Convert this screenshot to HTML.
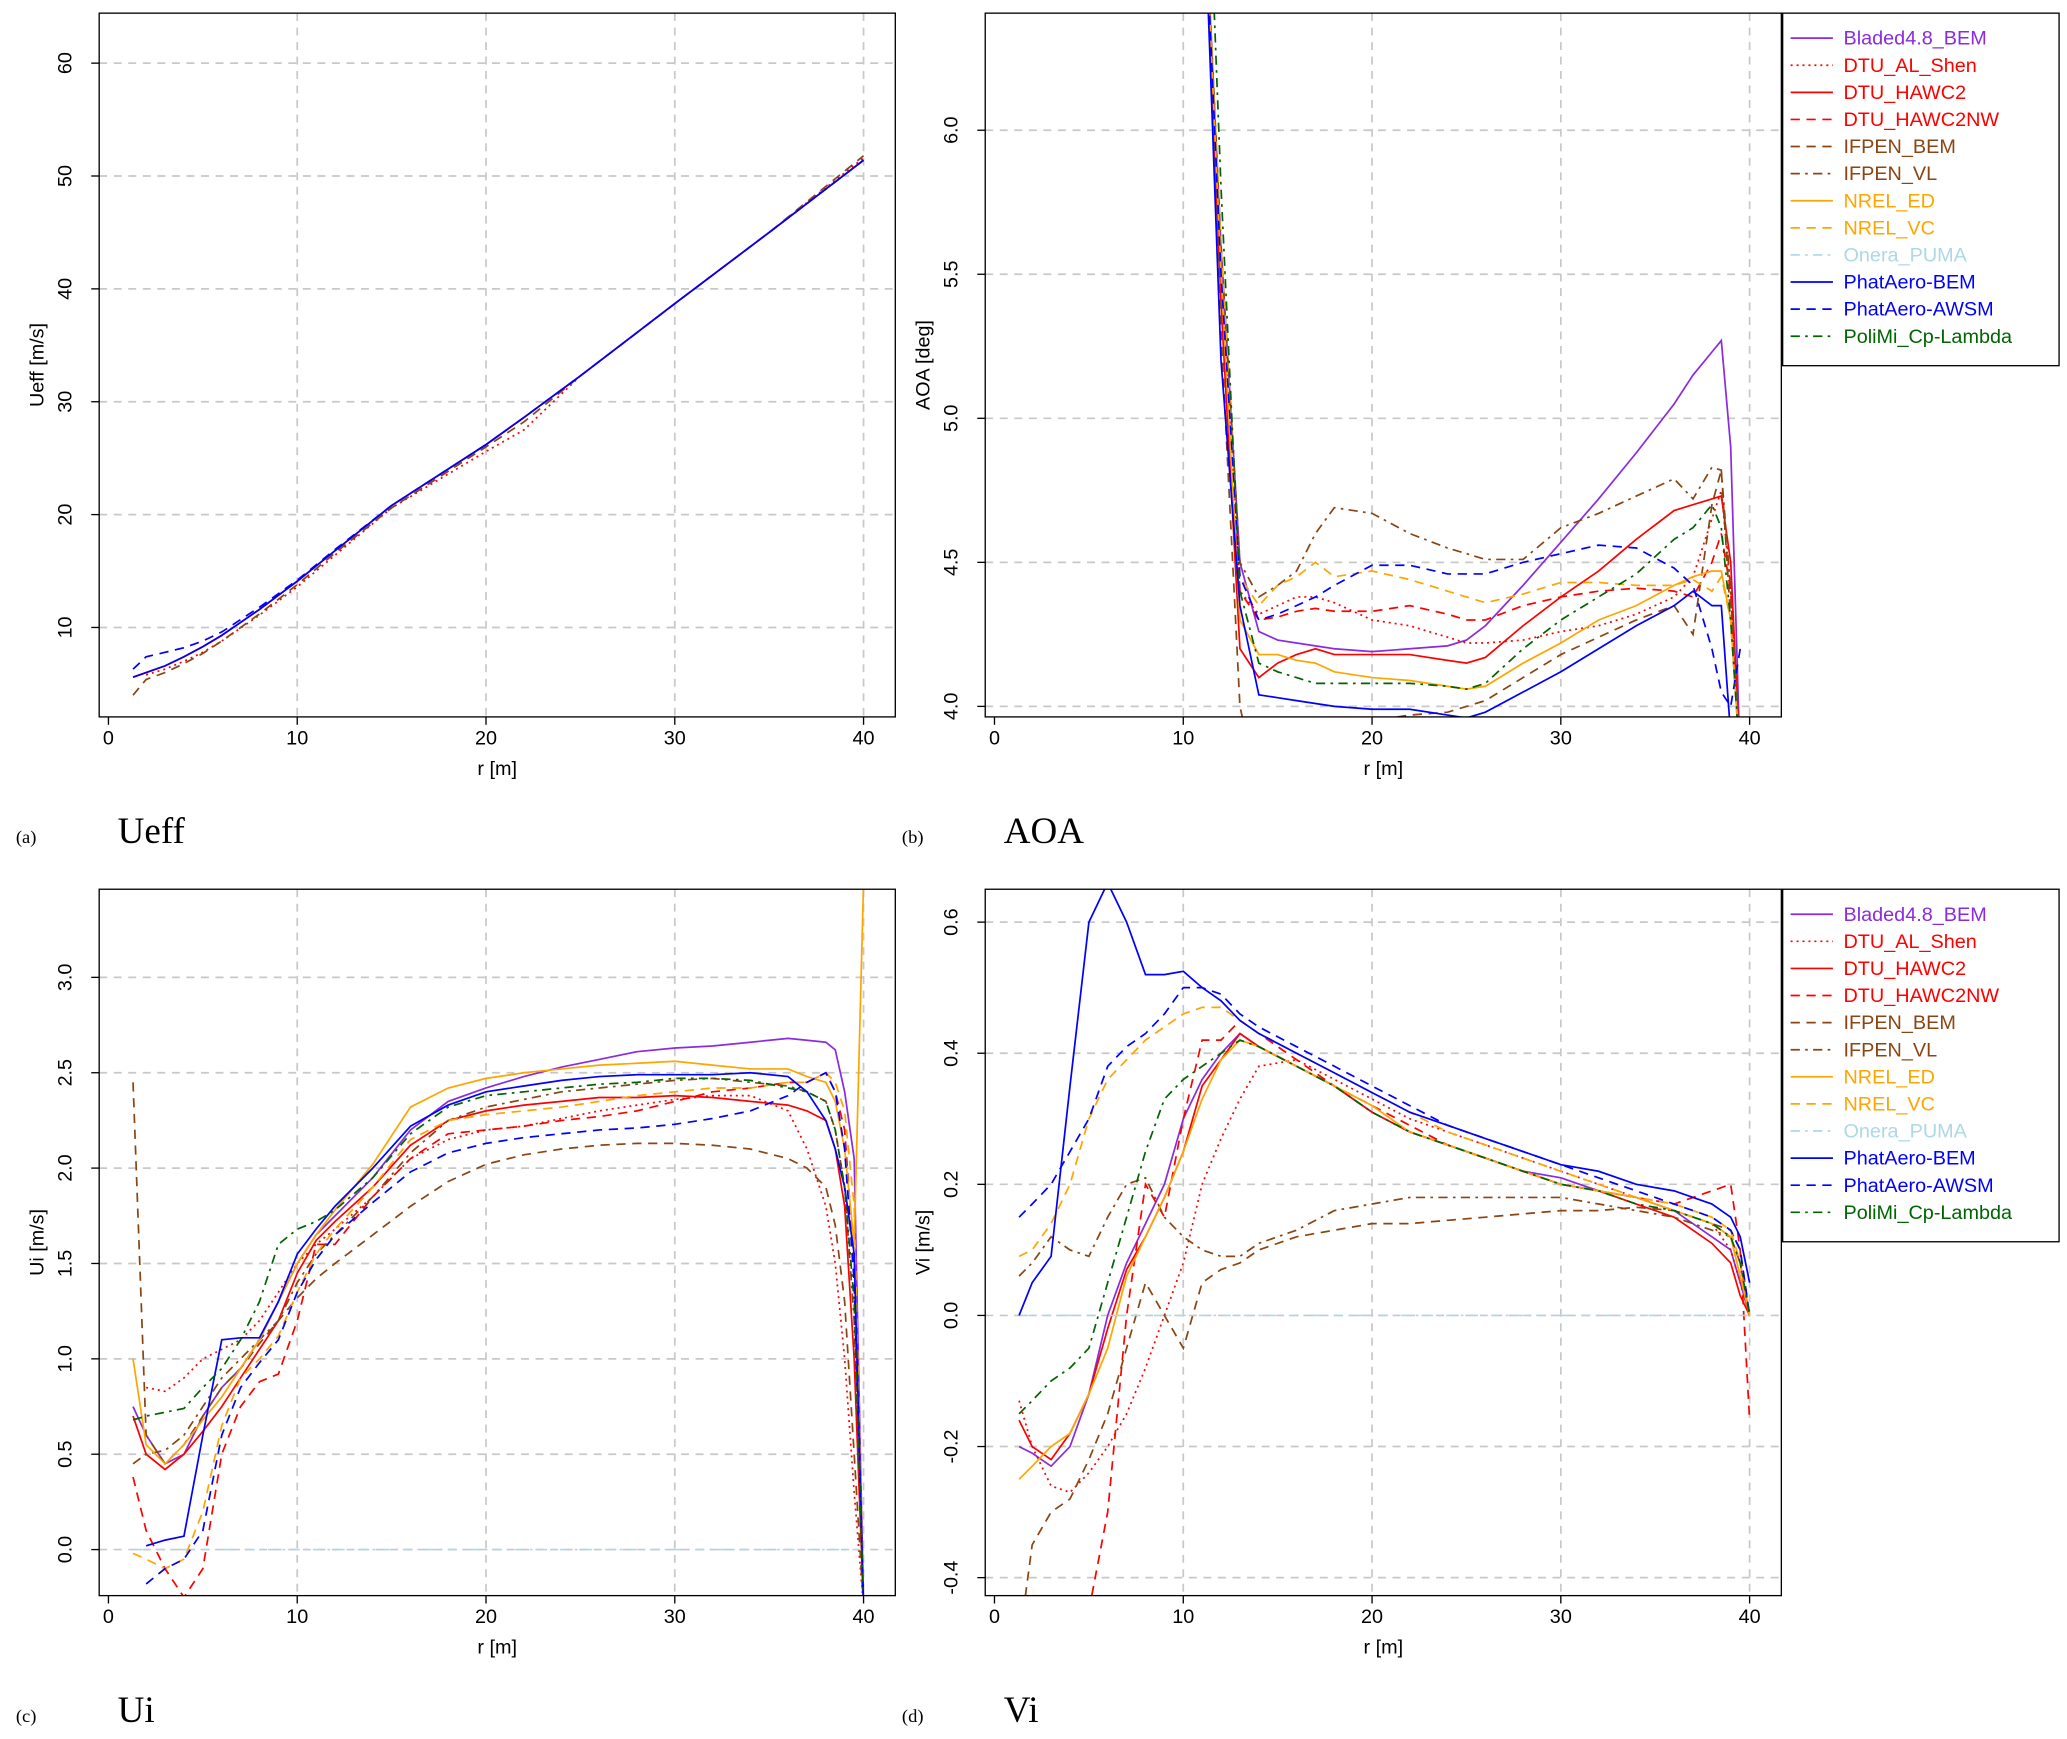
<!DOCTYPE html>
<html><head><meta charset="utf-8">
<style>
html,body{margin:0;padding:0;background:#fff;}
svg{display:block;font-family:"Liberation Sans",sans-serif;}
</style></head>
<body>
<svg id="fig" width="2067" height="1739" viewBox="0 0 1563 1322" preserveAspectRatio="none" xmlns="http://www.w3.org/2000/svg"></svg>
<script>
// ---- data ----
const seriesNames = ["Bladed4.8_BEM","DTU_AL_Shen","DTU_HAWC2","DTU_HAWC2NW","IFPEN_BEM","IFPEN_VL","NREL_ED","NREL_VC","Onera_PUMA","PhatAero-BEM","PhatAero-AWSM","PoliMi_Cp-Lambda"];
const xTicks = [0,10,20,30,40];
const ticksA = [10,20,30,40,50,60];
const ticksB = [4.0,4.5,5.0,5.5,6.0];
const ticksC = [0.0,0.5,1.0,1.5,2.0,2.5,3.0];
const ticksD = [-0.4,-0.2,0.0,0.2,0.4,0.6];

// Panel a: Ueff
const rA = [1.3,2,3,4,5,6,8,10,12,15,20,22,25,30,35,40];
const ueff_main = [5.6,6.0,6.6,7.4,8.3,9.3,11.6,14.1,16.8,20.8,26.2,28.6,32.3,38.7,45.0,51.4];
const ueff_awsm = [6.3,7.4,7.8,8.2,8.8,9.6,11.8,14.2,16.9,20.8,26.2,28.6,32.3,38.7,45.0,51.4];
const ueff_ifpen = [4.0,5.4,6.0,6.8,7.7,8.8,11.2,13.8,16.6,20.6,26.0,28.2,32.3,38.7,45.0,51.8];
const ueff_shen = [null,5.8,6.3,7.0,7.8,8.8,11.1,13.6,16.4,20.6,25.6,27.5,32.3,38.7,45.0,51.6];

// Panel b: AOA
const rB = [11,12,13,14,15,16,17,18,20,22,24,25,26,28,30,32,34,36,37,38,38.5,39,39.5];
const aoa = [
 [7,5.6,4.5,4.26,4.23,4.22,4.21,4.2,4.19,4.2,4.21,4.23,4.28,4.42,4.57,4.72,4.88,5.05,5.15,5.23,5.27,4.9,3.8],
 [7,5.5,4.4,4.32,4.35,4.38,4.38,4.36,4.3,4.28,4.24,4.22,4.22,4.23,4.26,4.28,4.32,4.38,4.45,4.65,4.75,4.4,3.8],
 [7,5.4,4.2,4.1,4.15,4.18,4.2,4.18,4.18,4.18,4.16,4.15,4.17,4.28,4.38,4.47,4.58,4.68,4.7,4.72,4.73,4.5,3.8],
 [7,5.5,4.4,4.3,4.31,4.33,4.34,4.33,4.33,4.35,4.32,4.3,4.3,4.35,4.38,4.4,4.41,4.4,4.38,4.5,4.6,4.4,3.8],
 [7,5.3,4.0,3.7,3.7,3.7,3.75,3.8,3.95,3.97,3.98,4.0,4.02,4.1,4.18,4.24,4.3,4.35,4.25,4.7,4.82,4.3,3.8],
 [7,5.6,4.5,4.38,4.42,4.47,4.6,4.69,4.67,4.6,4.55,4.53,4.51,4.51,4.62,4.67,4.73,4.79,4.72,4.83,4.82,4.4,3.8],
 [7,5.5,4.3,4.18,4.18,4.16,4.15,4.12,4.1,4.09,4.07,4.06,4.07,4.15,4.22,4.3,4.35,4.42,4.45,4.47,4.47,4.3,3.8],
 [7,5.6,4.45,4.35,4.42,4.45,4.5,4.45,4.47,4.44,4.4,4.38,4.36,4.39,4.43,4.43,4.42,4.42,4.44,4.4,4.45,4.3,3.8],
 [],
 [7,5.2,4.35,4.04,4.03,4.02,4.01,4.0,3.99,3.99,3.97,3.96,3.98,4.05,4.12,4.2,4.28,4.35,4.4,4.35,4.35,3.9,3.8],
 [7,5.5,4.45,4.3,4.32,4.35,4.38,4.42,4.49,4.49,4.46,4.46,4.46,4.5,4.53,4.56,4.55,4.48,4.42,4.2,4.05,4.0,4.2],
 [7.5,5.8,4.4,4.15,4.12,4.1,4.08,4.08,4.08,4.08,4.07,4.06,4.08,4.2,4.3,4.38,4.46,4.58,4.62,4.7,4.62,4.3,3.8]
];

// Panel c: Ui
const rC = [1.3,2,3,4,5,6,7,8,9,10,11,12,14,16,18,20,22,24,26,28,30,32,34,36,37,38,38.5,39,39.5,40];
const ui = [
 [0.75,0.6,0.45,0.5,0.7,0.85,0.95,1.1,1.3,1.5,1.65,1.75,1.95,2.2,2.35,2.42,2.48,2.53,2.57,2.61,2.63,2.64,2.66,2.68,2.67,2.66,2.62,2.4,2.05,-0.3],
 [null,0.85,0.83,0.9,1.0,1.05,1.1,1.2,1.35,1.5,1.6,1.68,1.85,2.05,2.15,2.2,2.22,2.26,2.3,2.33,2.36,2.38,2.38,2.3,2.1,1.8,1.5,1.0,0.3,-0.3],
 [0.7,0.5,0.42,0.5,0.62,0.75,0.9,1.05,1.2,1.45,1.62,1.72,1.9,2.12,2.25,2.3,2.33,2.35,2.37,2.37,2.38,2.37,2.35,2.33,2.3,2.25,2.1,1.8,1.0,-0.3],
 [0.38,0.1,-0.1,-0.25,-0.1,0.5,0.75,0.88,0.92,1.2,1.6,1.6,1.85,2.05,2.18,2.2,2.22,2.25,2.27,2.3,2.35,2.4,2.42,2.45,2.45,2.5,2.4,2.2,1.5,-0.3],
 [2.45,0.6,0.45,0.55,0.7,0.85,0.95,1.08,1.2,1.32,1.42,1.5,1.65,1.8,1.93,2.02,2.07,2.1,2.12,2.13,2.13,2.12,2.1,2.05,2.0,1.9,1.7,1.3,0.5,-0.3],
 [0.45,0.5,0.52,0.6,0.75,0.9,1.0,1.1,1.2,1.4,1.55,1.65,1.85,2.08,2.25,2.32,2.36,2.4,2.42,2.44,2.46,2.47,2.45,2.43,2.4,2.35,2.2,1.9,1.2,-0.3],
 [1.0,0.55,0.45,0.55,0.68,0.8,0.95,1.1,1.3,1.5,1.65,1.78,2.02,2.32,2.42,2.47,2.5,2.52,2.54,2.55,2.56,2.54,2.52,2.52,2.48,2.45,2.35,2.1,1.6,3.5],
 [-0.02,-0.05,-0.1,-0.05,0.2,0.65,0.9,1.0,1.12,1.35,1.55,1.68,1.9,2.15,2.25,2.28,2.3,2.32,2.35,2.38,2.4,2.42,2.42,2.45,2.45,2.5,2.45,2.3,1.8,-0.3],
 [0,0,0,0,0,0,0,0,0,0,0,0,0,0,0,0,0,0,0,0,0,0,0,0,0,0,0,0,0,0],
 [null,0.02,0.05,0.07,0.6,1.1,1.11,1.11,1.3,1.55,1.68,1.8,2.0,2.22,2.33,2.4,2.43,2.46,2.48,2.49,2.49,2.49,2.5,2.48,2.4,2.25,2.1,1.9,1.55,-0.3],
 [null,-0.18,-0.1,-0.05,0.1,0.6,0.85,0.98,1.1,1.35,1.52,1.65,1.82,1.98,2.08,2.13,2.16,2.18,2.2,2.21,2.23,2.26,2.3,2.38,2.45,2.5,2.4,2.1,1.4,-0.3],
 [0.68,0.7,0.72,0.74,0.85,0.95,1.1,1.3,1.6,1.68,1.72,1.78,1.95,2.18,2.32,2.38,2.4,2.42,2.44,2.45,2.47,2.47,2.46,2.42,2.4,2.35,2.2,1.9,1.3,-0.3]
];

// Panel d: Vi
const rD = [1.3,2,3,4,5,6,7,8,9,10,11,12,13,14,16,18,20,22,24,26,28,30,32,34,36,38,39,39.5,40];
const vi = [
 [-0.2,-0.21,-0.23,-0.2,-0.12,0.0,0.08,0.14,0.2,0.3,0.36,0.4,0.43,0.41,0.38,0.35,0.31,0.28,0.26,0.24,0.22,0.21,0.19,0.18,0.16,0.12,0.1,0.05,0.0],
 [-0.13,-0.2,-0.26,-0.27,-0.24,-0.2,-0.15,-0.08,0.0,0.08,0.2,0.27,0.33,0.38,0.39,0.36,0.33,0.3,0.28,0.26,0.24,0.22,0.2,0.18,0.16,0.14,0.1,0.05,0.0],
 [-0.16,-0.2,-0.22,-0.18,-0.12,-0.02,0.07,0.12,0.18,0.25,0.35,0.39,0.43,0.41,0.38,0.35,0.31,0.28,0.26,0.24,0.22,0.2,0.19,0.17,0.15,0.11,0.08,0.03,0.0],
 [null,null,null,null,-0.45,-0.3,0.0,0.2,0.15,0.3,0.42,0.42,0.45,0.43,0.39,0.35,0.32,0.29,0.26,0.24,0.22,0.2,0.19,0.18,0.17,0.19,0.2,0.1,-0.16],
 [-0.5,-0.35,-0.3,-0.28,-0.22,-0.15,-0.05,0.05,0.0,-0.05,0.05,0.07,0.08,0.1,0.12,0.13,0.14,0.14,0.145,0.15,0.155,0.16,0.16,0.165,0.16,0.14,0.13,0.1,0.0],
 [0.06,0.08,0.12,0.1,0.09,0.15,0.2,0.21,0.15,0.12,0.1,0.09,0.09,0.11,0.13,0.16,0.17,0.18,0.18,0.18,0.18,0.18,0.17,0.16,0.15,0.13,0.12,0.08,0.0],
 [-0.25,-0.23,-0.2,-0.18,-0.12,-0.05,0.06,0.12,0.18,0.25,0.33,0.39,0.42,0.41,0.38,0.35,0.32,0.28,0.26,0.24,0.22,0.2,0.19,0.18,0.16,0.14,0.12,0.06,0.0],
 [0.09,0.1,0.14,0.2,0.3,0.36,0.39,0.42,0.44,0.46,0.47,0.47,0.45,0.43,0.4,0.37,0.34,0.31,0.28,0.26,0.24,0.22,0.2,0.18,0.17,0.15,0.13,0.08,0.0],
 [0,0,0,0,0,0,0,0,0,0,0,0,0,0,0,0,0,0,0,0,0,0,0,0,0,0,0,0,0],
 [0.0,0.05,0.09,0.35,0.6,0.66,0.6,0.52,0.52,0.525,0.5,0.48,0.45,0.43,0.4,0.37,0.34,0.31,0.29,0.27,0.25,0.23,0.22,0.2,0.19,0.17,0.15,0.12,0.05],
 [0.15,0.17,0.2,0.25,0.3,0.38,0.41,0.43,0.46,0.5,0.5,0.49,0.46,0.44,0.41,0.38,0.35,0.32,0.29,0.27,0.25,0.23,0.21,0.19,0.17,0.15,0.13,0.1,0.0],
 [-0.15,-0.13,-0.1,-0.08,-0.05,0.05,0.15,0.25,0.33,0.36,0.38,0.4,0.42,0.41,0.38,0.35,0.31,0.28,0.26,0.24,0.22,0.2,0.19,0.17,0.16,0.14,0.12,0.08,0.0]
];

// ---- styles ----
const colors = ["#8a2be2","#ff0000","#ff0000","#ff0000","#8b4513","#8b4513","#ffa500","#ffa500","#add8e6","#0000ff","#0000ff","#006400"];
const dashes = ["","1.5 3","","7 5","7 5","7 4 2 4","","7 5","7 4 2 4","","7 5","7 4 2 4"];
const NS = "http://www.w3.org/2000/svg";
const svg = document.getElementById("fig");
function mk(tag, attrs, parent){const e=document.createElementNS(NS,tag);for(const k in attrs)e.setAttribute(k,attrs[k]);(parent||svg).appendChild(e);return e;}

function panel(cfg){
  const g = mk("g",{});
  
  
  const {x0,x1,y0,y1,px0,px40,yv0,yp0,yv1,yp1} = cfg;
  const sx = v => px0 + (px40-px0)*v/40;
  const sy = v => yp0 + (yp1-yp0)*(v-yv0)/(yv1-yv0);
  const cid = "clip"+cfg.name;
  const cp = mk("clipPath",{id:cid},g); mk("rect",{x:x0,y:y0,width:x1-x0,height:y1-y0},cp);
  // grid
  xTicks.forEach(t=>{ if(t>0){const l=mk("line",{x1:sx(t),x2:sx(t),y1:y0,y2:y1,stroke:"#c8c8c8","stroke-dasharray":"6 5","stroke-width":1.3},g);
    
    }});
  cfg.yt.forEach(t=>{const l=mk("line",{x1:x0,x2:x1,y1:sy(t),y2:sy(t),stroke:"#c8c8c8","stroke-dasharray":"6 5","stroke-width":1.3},g);
    
    });
  // series
  cfg.series.forEach((s,i)=>{
    if(!s || !s.v || !s.v.length) return;
    let d="",pen=false;
    s.v.forEach((v,j)=>{ if(v===null){pen=false;return;} d+=(pen?"L":"M")+sx(s.r[j]).toFixed(1)+" "+sy(v).toFixed(1)+" "; pen=true;});
    const p=mk("path",{d:d,fill:"none",stroke:s.c,"stroke-width":1.3,"stroke-dasharray":s.dash,"clip-path":"url(#"+cid+")"},g);
    
    
  });
  // box
  const b=mk("rect",{x:x0,y:y0,width:x1-x0,height:y1-y0,fill:"none",stroke:"#000","stroke-width":1},g);
  
  
  // x ticks
  xTicks.forEach(t=>{
    mk("line",{x1:sx(t),x2:sx(t),y1:y1,y2:y1+6,stroke:"#000"},g);
    const tx=mk("text",{x:sx(t),y:y1+21,"font-size":15,"text-anchor":"middle"},g); tx.textContent=t;
    
    
  });
  const xt=mk("text",{x:(x0+x1)/2,y:y1+44,"font-size":15,"text-anchor":"middle"},g); xt.textContent="r [m]";
  
  
  cfg.yt.forEach(t=>{
    mk("line",{x1:x0-6,x2:x0,y1:sy(t),y2:sy(t),stroke:"#000"},g);
    const lab=cfg.fmt(t);
    const tx=mk("text",{x:0,y:0,"font-size":15,"text-anchor":"middle",transform:`translate(${x0-21},${sy(t)}) rotate(-90)`},g); tx.textContent=lab;
    
    
  });
  const yt=mk("text",{x:0,y:0,"font-size":15,"text-anchor":"middle",transform:`translate(${x0-42},${(y0+y1)/2}) rotate(-90)`},g); yt.textContent=cfg.ytitle;
  
  
  // caption
  const c1=mk("text",{x:x0-63,y:y1+96,"font-size":14,"font-family":"Liberation Serif, serif"},g); c1.textContent=cfg.tag;
  
  
  const c2=mk("text",{x:x0+14,y:y1+96,"font-size":28,"font-family":"Liberation Serif, serif"},g); c2.textContent=cfg.cap;
  
  
  // legend
  if(cfg.legend){
    const L=cfg.legend;
    const lg=mk("g",{},g);
    
    
    mk("rect",{x:L.x,y:L.y,width:209,height:268,fill:"#fff",stroke:"#000"},lg);
    seriesNames.forEach((n,i)=>{
      const yy=L.y+19+i*20.6;
      const e=mk("g",{},lg);
      
      
      mk("line",{x1:L.x+6,x2:L.x+38,y1:yy,y2:yy,stroke:colors[i],"stroke-width":1.3,"stroke-dasharray":dashes[i]},e);
      const t=mk("text",{x:L.x+46,y:yy+5,"font-size":15,fill:colors[i]},e); t.textContent=n;
    });
  }
}
const mkSeries = (r,arrs)=>arrs.map((v,i)=>({r:r,v:v,c:colors[i],dash:dashes[i],n:seriesNames[i]}));
const seriesA = [
 {r:rA,v:ueff_shen,c:colors[1],dash:dashes[1],n:"DTU_AL_Shen"},
 {r:rA,v:ueff_ifpen,c:colors[4],dash:dashes[4],n:"IFPEN_BEM"},
 {r:rA,v:ueff_main,c:colors[6],dash:dashes[6],n:"NREL_ED"},
 {r:rA,v:ueff_main,c:colors[2],dash:dashes[2],n:"DTU_HAWC2"},
 {r:rA,v:ueff_awsm,c:colors[10],dash:dashes[10],n:"PhatAero-AWSM"},
 {r:rA,v:ueff_main,c:colors[9],dash:dashes[9],n:"PhatAero-BEM"}
];
panel({name:"panel-a",x0:75,x1:677,y0:10,y1:545,px0:82,px40:653,yv0:10,yp0:477,yv1:60,yp1:48,yt:ticksA,fmt:t=>t,ytitle:"Ueff [m/s]",tag:"(a)",cap:"Ueff",series:seriesA});
panel({name:"panel-b",x0:745,x1:1347,y0:10,y1:545,px0:752,px40:1323,yv0:4,yp0:537,yv1:6,yp1:99,yt:ticksB,fmt:t=>t.toFixed(1),ytitle:"AOA [deg]",tag:"(b)",cap:"AOA",series:mkSeries(rB,aoa),legend:{x:1348,y:10}});
panel({name:"panel-c",x0:75,x1:677,y0:676,y1:1213,px0:82,px40:653,yv0:0,yp0:1178,yv1:3,yp1:743,yt:ticksC,fmt:t=>t.toFixed(1),ytitle:"Ui [m/s]",tag:"(c)",cap:"Ui",series:mkSeries(rC,ui)});
panel({name:"panel-d",x0:745,x1:1347,y0:676,y1:1213,px0:752,px40:1323,yv0:0,yp0:1000,yv1:0.6,yp1:701,yt:ticksD,fmt:t=>t.toFixed(1),ytitle:"Vi [m/s]",tag:"(d)",cap:"Vi",series:mkSeries(rD,vi),legend:{x:1348,y:676}});
</script>
</body></html>
